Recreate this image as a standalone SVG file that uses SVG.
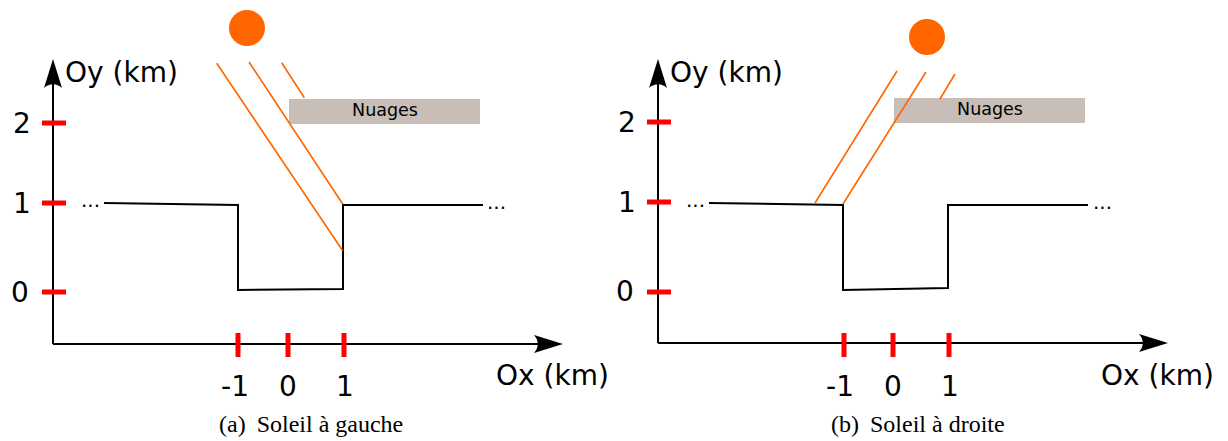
<svg xmlns="http://www.w3.org/2000/svg" width="1228" height="441" viewBox="0 0 1228 441">
<style>
.ax{stroke:#000;stroke-width:2;fill:none}
.tick{stroke:#ff0000;stroke-width:5;fill:none}
.prof{stroke:#000;stroke-width:2;fill:none;stroke-linejoin:miter}
.ray{stroke:#ff6600;stroke-width:1.6;fill:none}
.sun{fill:#ff6600}
.cloud{fill:#c8beb7}
.lbl{font-family:"DejaVu Sans",sans-serif;font-size:28px;fill:#000}
.dots{font-family:"DejaVu Sans",sans-serif;font-size:20px;fill:#000}
.cl{font-family:"DejaVu Sans",sans-serif;font-size:17.5px;fill:#000}
.cap{font-family:"Liberation Serif",serif;font-size:24px;fill:#000}
.head{fill:#000}
</style>
<defs>
<path id="arr" d="M0,0 L-29,-9 C-24,-3.5 -24,3.5 -29,9 Z"/>
</defs>
<g id="panel-a">
  <g id="axes-a">
    <path class="ax" d="M53,344 V80"/>
    <path class="ax" d="M53,344 H545"/>
    <use href="#arr" class="head" transform="translate(53,59) rotate(-90)"/>
    <use href="#arr" class="head" transform="translate(563,344)"/>
    <text class="lbl" x="65" y="82">Oy (km)</text>
    <text class="lbl" x="496" y="385">Ox (km)</text>
  </g>
  <g id="yticks-a">
    <path class="tick" d="M42,123 H66 M42,203 H66 M42,292 H66"/>
    <text class="lbl" x="22" y="133" text-anchor="middle">2</text>
    <text class="lbl" x="22" y="213" text-anchor="middle">1</text>
    <text class="lbl" x="20" y="302" text-anchor="middle">0</text>
  </g>
  <g id="xticks-a">
    <path class="tick" d="M238,333 V357 M288,333 V357 M344,333 V357"/>
    <text class="lbl" x="235" y="396" text-anchor="middle">-1</text>
    <text class="lbl" x="288" y="396" text-anchor="middle">0</text>
    <text class="lbl" x="345" y="396" text-anchor="middle">1</text>
  </g>
  <g id="profile-a">
    <path class="prof" d="M104,203 L238,205 V290 L343,289 V205 H483"/>
    <text class="dots" x="81" y="207">...</text>
    <text class="dots" x="487" y="209">...</text>
  </g>
  <g id="cloud-a">
    <rect class="cloud" x="289" y="99" width="191" height="25"/>
    <text class="cl" x="385" y="116" text-anchor="middle">Nuages</text>
  </g>
  <g id="sun-a">
    <circle class="sun" cx="247" cy="28" r="18"/>
    <path class="ray" d="M216.7,63.3 L342.7,250.7 M249,62 L342.7,204 M281.7,62.7 L304.3,97.7"/>
  </g>
  <text id="caption-a" class="cap" x="219" y="432">(a)<tspan dx="11">Soleil à gauche</tspan></text>
</g>
<g id="panel-b">
  <g id="axes-b">
    <path class="ax" d="M658,343 V80"/>
    <path class="ax" d="M658,343 H1150"/>
    <use href="#arr" class="head" transform="translate(658,59) rotate(-90)"/>
    <use href="#arr" class="head" transform="translate(1168,343)"/>
    <text class="lbl" x="670" y="82">Oy (km)</text>
    <text class="lbl" x="1101" y="385">Ox (km)</text>
  </g>
  <g id="yticks-b">
    <path class="tick" d="M647,122 H671 M647,202 H671 M647,292 H671"/>
    <text class="lbl" x="627" y="132" text-anchor="middle">2</text>
    <text class="lbl" x="627" y="212" text-anchor="middle">1</text>
    <text class="lbl" x="625" y="301" text-anchor="middle">0</text>
  </g>
  <g id="xticks-b">
    <path class="tick" d="M844,333 V357 M893,333 V357 M949,333 V357"/>
    <text class="lbl" x="840" y="396" text-anchor="middle">-1</text>
    <text class="lbl" x="893" y="396" text-anchor="middle">0</text>
    <text class="lbl" x="950" y="396" text-anchor="middle">1</text>
  </g>
  <g id="profile-b">
    <path class="prof" d="M709,203 L843,205 V290 L948,288 V205 H1088"/>
    <text class="dots" x="686" y="207">...</text>
    <text class="dots" x="1093" y="209">...</text>
  </g>
  <g id="cloud-b">
    <rect class="cloud" x="894" y="98" width="191" height="25"/>
    <text class="cl" x="990" y="115" text-anchor="middle">Nuages</text>
  </g>
  <g id="sun-b">
    <circle class="sun" cx="927" cy="37" r="18"/>
    <path class="ray" d="M897,71 L815,203 M926,72 L843,204 M955,74 L940,99"/>
  </g>
  <text id="caption-b" class="cap" x="831" y="432">(b)<tspan dx="11">Soleil à droite</tspan></text>
</g>
</svg>
